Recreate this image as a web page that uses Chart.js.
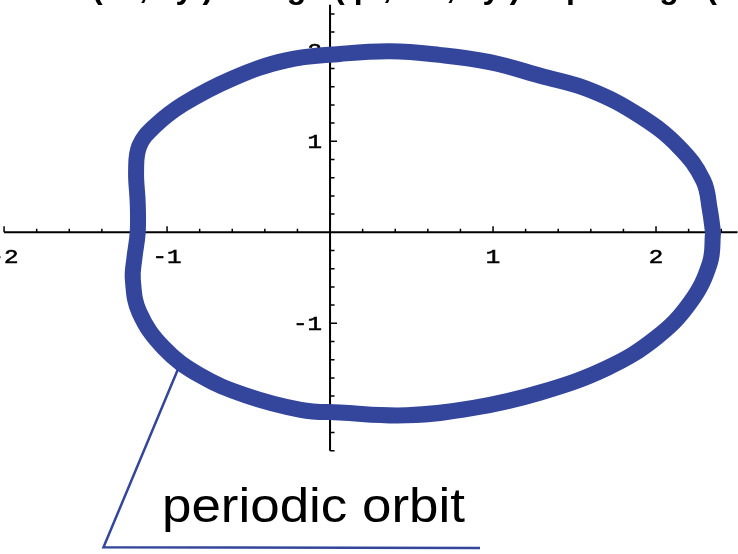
<!DOCTYPE html>
<html>
<head>
<meta charset="utf-8">
<script src="https://cdn.jsdelivr.net/npm/chart.js@4.4.1/dist/chart.umd.min.js"></script>
<style>
  html, body { margin: 0; padding: 0; background: #fff; }
  #plot { display: block; }
</style>
</head>
<body>
<canvas id="plot" width="738" height="554"></canvas>
<script>
// orbit traced counter-clockwise from the right crossing
var orbitX = [2.35, 2.33, 2.29, 2.14, 1.90, 1.60, 1.29, 0.98, 0.67, 0.37, 0.06, -0.27, -0.60, -0.90, -1.08, -1.17, -1.19, -1.18, -1.18, -1.20, -1.21, -1.17, -1.02, -0.80, -0.52, -0.18, 0.06, 0.47, 0.88, 1.29, 1.70, 2.00, 2.21, 2.33, 2.35];
var orbitY = [0.00, 0.25, 0.57, 0.94, 1.28, 1.56, 1.72, 1.87, 1.95, 1.99, 1.96, 1.89, 1.69, 1.41, 1.16, 0.95, 0.68, 0.32, 0.00, -0.28, -0.52, -0.88, -1.27, -1.57, -1.79, -1.95, -1.98, -2.01, -1.93, -1.76, -1.49, -1.16, -0.77, -0.34, 0.00];

// pointer line for the label
var calloutX = [-0.93, -1.39, 0.92];
var calloutY = [-1.49, -3.46, -3.47];

var xTickLabels = [-2, -1, 1, 2];
var yTickLabels = [-1, 1, 2];
var xAxisSpan = [-2, 2.5];
var yAxisSpan = [-2.4, 2.5];
var minorStep = 0.2;

var orbitColor = '#34469b';

function toPoints(xs, ys) {
    return xs.map(function(x, i){ return { x: x, y: ys[i] }; });
}

function drawLabel(ctx, text, x, y, align) {
    ctx.save();
    ctx.translate(x, y);
    ctx.scale(1.15, 1);
    ctx.textAlign = align;
    ctx.fillText(text, 0, 0);
    ctx.strokeText(text, 0, 0);
    ctx.restore();
}

// Mathematica style axes: lines through the origin, ticks on the positive side
var axesPlugin = {
    id: 'axesPlugin',
    beforeDatasetsDraw: function(chart) {
        var ctx = chart.ctx;
        var sx = chart.scales.x, sy = chart.scales.y;
        var x0 = sx.getPixelForValue(0), y0 = sy.getPixelForValue(0);
        ctx.save();
        ctx.strokeStyle = '#000';
        ctx.lineWidth = 2;
        ctx.beginPath();
        ctx.moveTo(sx.getPixelForValue(xAxisSpan[0]), y0);
        ctx.lineTo(sx.getPixelForValue(xAxisSpan[1]), y0);
        ctx.moveTo(x0, sy.getPixelForValue(yAxisSpan[0]));
        ctx.lineTo(x0, sy.getPixelForValue(yAxisSpan[1]));
        ctx.stroke();

        ctx.lineWidth = 1.5;
        ctx.beginPath();
        var n, v, len, p;
        for (n = Math.ceil(xAxisSpan[0] / minorStep - 1e-9); n * minorStep <= xAxisSpan[1] + 1e-9; n++) {
            if (n === 0) continue;
            v = n * minorStep;
            len = (n % 5 === 0) ? 6 : 3.5;
            p = sx.getPixelForValue(v);
            ctx.moveTo(p, y0);
            ctx.lineTo(p, y0 - len);
        }
        for (n = Math.ceil(yAxisSpan[0] / minorStep - 1e-9); n * minorStep <= yAxisSpan[1] + 1e-9; n++) {
            if (n === 0) continue;
            v = n * minorStep;
            len = (n % 5 === 0) ? 7 : 4.5;
            p = sy.getPixelForValue(v);
            ctx.moveTo(x0, p);
            ctx.lineTo(x0 + len, p);
        }
        ctx.stroke();

        // tick labels
        ctx.fillStyle = '#000';
        ctx.lineWidth = 0.6;
        ctx.font = '21px "Liberation Mono"';
        ctx.textBaseline = 'alphabetic';
        xTickLabels.forEach(function(v){
            drawLabel(ctx, String(v), sx.getPixelForValue(v), y0 + 31, 'center');
        });
        yTickLabels.forEach(function(v){
            drawLabel(ctx, String(v), x0 - 8, sy.getPixelForValue(v) + 7, 'right');
        });
        ctx.restore();
    },
    afterDraw: function(chart) {
        var ctx = chart.ctx;
        ctx.save();
        ctx.fillStyle = '#000';
        // heading above the plot, only its lower edge falls on the canvas
        var heading = '(x, y) = g (p, x, y)  p = g (';
        ctx.font = 'bold 32px "Liberation Sans"';
        ctx.textBaseline = 'alphabetic';
        var w = ctx.measureText(heading).width;
        ctx.letterSpacing = Math.max(0, (635 - w) / heading.length).toFixed(1) + 'px';
        ctx.fillText(heading, 92, -2);
        ctx.letterSpacing = '0px';
        // label of the orbit
        ctx.font = '49px "Liberation Sans"';
        ctx.translate(162, 522);
        ctx.scale(1.08, 1);
        ctx.fillText('periodic orbit', 0, 0);
        ctx.restore();
    }
};

new Chart(document.getElementById('plot'), {
    type: 'scatter',
    data: {
        datasets: [
            {
                data: toPoints(orbitX, orbitY),
                showLine: true,
                borderColor: orbitColor,
                borderWidth: 16,
                borderJoinStyle: 'round',
                borderCapStyle: 'round',
                tension: 0.4,
                pointRadius: 0,
                fill: false
            },
            {
                data: toPoints(calloutX, calloutY),
                showLine: true,
                borderColor: orbitColor,
                borderWidth: 2.5,
                tension: 0,
                pointRadius: 0,
                fill: false
            }
        ]
    },
    options: {
        responsive: false,
        animation: false,
        devicePixelRatio: 1,
        layout: { padding: 0 },
        plugins: {
            legend: { display: false },
            tooltip: { enabled: false }
        },
        scales: {
            x: { type: 'linear', min: -2.025, max: 2.503, display: false },
            y: { type: 'linear', min: -3.535, max: 2.553, display: false }
        }
    },
    plugins: [axesPlugin]
});
</script>
</body>
</html>
